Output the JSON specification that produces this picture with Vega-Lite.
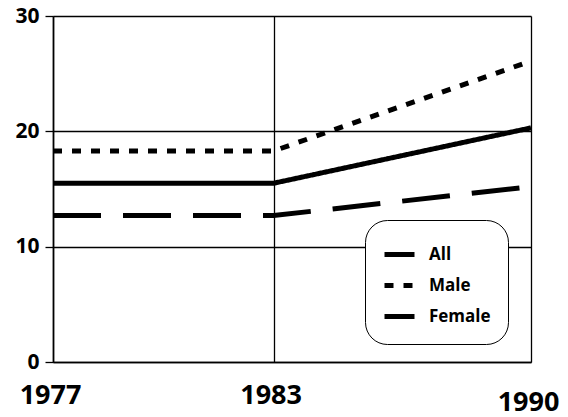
{
  "$schema": "https://vega.github.io/schema/vega-lite/v6.json",
  "width": 478,
  "height": 346,
  "autosize": "none",
  "padding": {"left": 53, "top": 16, "right": 37, "bottom": 55},
  "background": "white",
  "data": {
    "values": [
      {"series": "All", "year": 1977, "value": 15.5},
      {"series": "All", "year": 1983, "value": 15.5},
      {"series": "All", "year": 1990, "value": 20.3},
      {"series": "Male", "year": 1977, "value": 18.3},
      {"series": "Male", "year": 1983, "value": 18.3},
      {"series": "Male", "year": 1990, "value": 26.1},
      {"series": "Female", "year": 1977, "value": 12.7},
      {"series": "Female", "year": 1983, "value": 12.7},
      {"series": "Female", "year": 1990, "value": 15.2}
    ]
  },
  "mark": {"type": "line", "color": "black", "strokeWidth": 5, "strokeCap": "butt"},
  "encoding": {
    "x": {
      "field": "year",
      "type": "quantitative",
      "scale": {"domain": [1977, 1990], "nice": false, "zero": false},
      "axis": {
        "title": null,
        "values": [1977, 1983, 1990],
        "format": "d",
        "grid": true,
        "gridColor": "black",
        "gridWidth": 1.3,
        "gridOpacity": 1,
        "ticks": false,
        "domainColor": "black",
        "domainWidth": 1.6,
        "labelFont": "Open Sans",
        "labelFontWeight": "bold",
        "labelFontSize": 27,
        "labelColor": "black",
        "labelPadding": {"condition": {"test": "datum.value == 1990", "value": 27}, "value": 20},
        "labelOffset": -3,
        "labelFlush": false
      }
    },
    "y": {
      "field": "value",
      "type": "quantitative",
      "scale": {"domain": [0, 30], "nice": false},
      "axis": {
        "title": null,
        "values": [0, 10, 20, 30],
        "grid": true,
        "gridColor": "black",
        "gridWidth": 1.3,
        "gridOpacity": 1,
        "ticks": true,
        "tickSize": 8,
        "tickColor": "black",
        "tickWidth": 1.3,
        "domainColor": "black",
        "domainWidth": 1.6,
        "labelFont": "Open Sans",
        "labelFontWeight": "bold",
        "labelFontSize": 21,
        "labelColor": "black",
        "labelPadding": 6
      }
    },
    "strokeDash": {
      "field": "series",
      "type": "nominal",
      "scale": {"domain": ["All", "Male", "Female"], "range": [[1, 0], [9, 10], [48, 22]]},
      "legend": {
        "title": null,
        "orient": "none",
        "legendX": 312,
        "legendY": 204,
        "strokeColor": "black",
        "fillColor": "white",
        "cornerRadius": 22,
        "padding": 17,
        "rowPadding": 3,
        "symbolType": "stroke",
        "symbolSize": 900,
        "symbolStrokeWidth": 5,
        "symbolStrokeColor": "black",
        "labelFont": "Open Sans",
        "labelFontWeight": "bold",
        "labelFontSize": 17,
        "labelColor": "black",
        "labelOffset": 12
      }
    }
  },
  "config": {"view": {"stroke": null}}
}
